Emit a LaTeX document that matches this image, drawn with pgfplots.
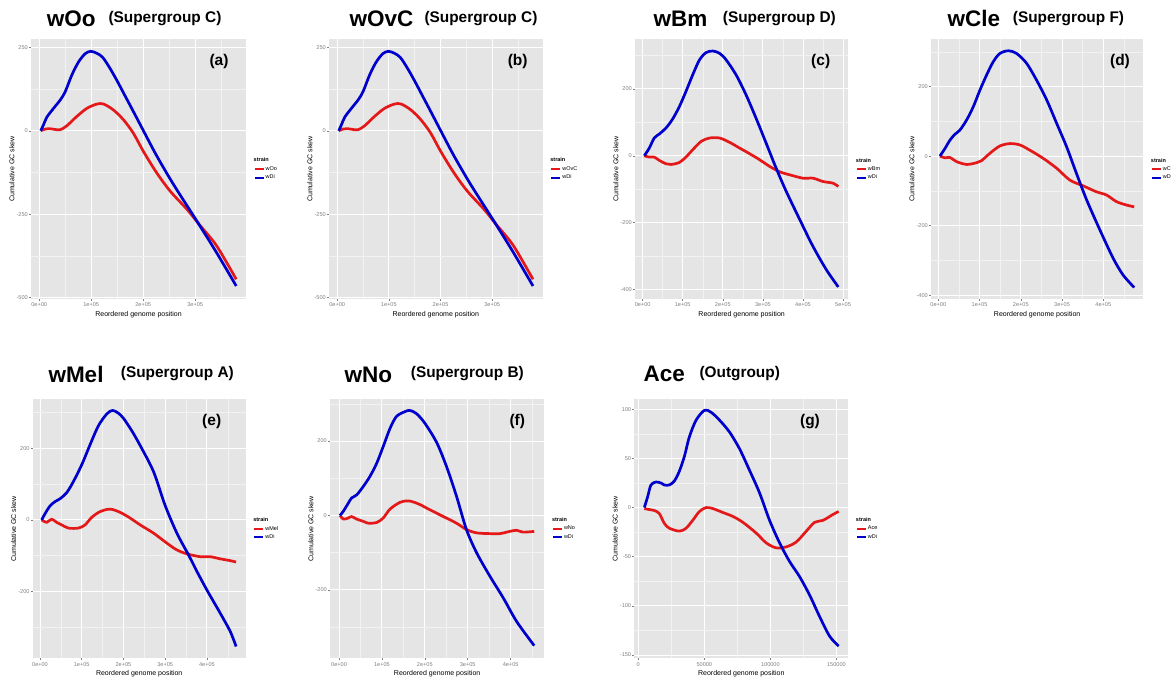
\documentclass[border=0pt]{standalone}
\usepackage{fontspec}
\setmainfont{Liberation Sans}
\usepackage{pgfplots}
\pgfplotsset{compat=1.18}

\definecolor{ggbg}{HTML}{E5E5E5}
\definecolor{ggminor}{HTML}{F2F2F2}
\definecolor{ggtick}{HTML}{808080}
\definecolor{skewred}{RGB}{228,24,24}
\definecolor{skewblue}{RGB}{0,0,205}

\pgfplotsset{
    ggpanel/.style={
        scale only axis, anchor=north west,
        axis background/.style={fill=ggbg},
        axis line style={draw=none},
        tick pos=left, tick align=outside,
        major tick length=2pt, minor tick length=0pt,
        tick style={ggtick, line width=0.5pt},
        grid=both,
        major grid style={white, line width=0.9pt},
        minor grid style={ggminor, line width=0.5pt},
        scaled ticks=false,
        tick label style={font=\fontsize{5.6}{6}\selectfont, text=ggtick},
        xticklabel style={inner sep=1.8pt},
        yticklabel style={inner sep=1pt},
        xlabel={Reordered genome position},
        ylabel={Cumulative GC skew},
        label style={font=\fontsize{7}{8}\selectfont},
        xlabel style={inner sep=1pt, yshift=-1.5pt},
        ylabel style={inner sep=1pt},
        legend cell align=left,
        legend style={at={(1.035,0.5)}, anchor=west, draw=none, fill=none,
            font=\fontsize{5.5}{6}\selectfont, inner sep=0pt, row sep=1pt,
            nodes={inner sep=1pt}},
        legend image code/.code={\draw[#1, line width=2pt] (0pt,0pt) -- (9pt,0pt);},
        every axis plot/.append style={line width=2.7pt, smooth, line join=round},
    },
    gencoord/.style={
        xtick={0,100000,200000,300000,400000,500000},
        xticklabels={0e+00,1e+05,2e+05,3e+05,4e+05,5e+05},
        minor xtick={50000,150000,250000,350000,450000},
    },
}

\begin{document}
\begin{tikzpicture}

% (a) wOo
\begin{axis}[ggpanel, gencoord, at={(31pt,642.7pt)}, width=215pt, height=259.7pt,
    xmin=-15800, xmax=397800, ymin=-504, ymax=274,
    ytick={-500,-250,0,250}, yticklabels={-500,-250,0,250},
    minor ytick={-375,-125,125}]
\addlegendimage{empty legend}\addlegendentry{\hspace{-12pt}\textbf{strain}}
\addplot[skewred] coordinates {(3000,0) (11500,5) (21000,6) (30000,4) (40400,3) (53200,15) (72400,43) (91600,67) (111000,80) (124000,80) (143000,62) (162000,33) (181000,-7) (200500,-62) (226000,-126) (252000,-181) (284000,-235) (309000,-283) (341000,-344) (379000,-445)};
\addlegendentry{wOo}
\addplot[skewblue] coordinates {(3000,0) (8300,18) (14800,41) (27500,67) (40400,92) (50000,117) (62800,167) (75600,206) (88500,231) (99300,238) (111000,232) (122000,220) (135000,190) (149000,152) (165000,105) (181000,58) (200500,0) (226000,-75) (258000,-160) (301000,-265) (340000,-362) (379000,-465)};
\addlegendentry{wDi}
\end{axis}

% (b) wOvC
\begin{axis}[ggpanel, gencoord, at={(329pt,642.7pt)}, width=213.7pt, height=259.7pt,
    xmin=-15800, xmax=397800, ymin=-504, ymax=274,
    ytick={-500,-250,0,250}, yticklabels={-500,-250,0,250},
    minor ytick={-375,-125,125}]
\addlegendimage{empty legend}\addlegendentry{\hspace{-12pt}\textbf{strain}}
\addplot[skewred] coordinates {(3000,0) (11500,5) (21000,6) (30000,4) (40400,3) (53200,15) (72400,43) (91600,67) (111000,80) (124000,80) (143000,62) (162000,33) (181000,-7) (200500,-62) (226000,-126) (252000,-181) (284000,-235) (309000,-283) (341000,-344) (379000,-445)};
\addlegendentry{wOvC}
\addplot[skewblue] coordinates {(3000,0) (8300,18) (14800,41) (27500,67) (40400,92) (50000,117) (62800,167) (75600,206) (88500,231) (99300,238) (111000,232) (122000,220) (135000,190) (149000,152) (165000,105) (181000,58) (200500,0) (226000,-75) (258000,-160) (301000,-265) (340000,-362) (379000,-465)};
\addlegendentry{wDi}
\end{axis}

% (c) wBm
\begin{axis}[ggpanel, gencoord, at={(635pt,642.7pt)}, width=213.3pt, height=259.7pt,
    xmin=-19000, xmax=513000, ymin=-428, ymax=348,
    ytick={-400,-200,0,200}, yticklabels={-400,-200,0,200},
    minor ytick={-300,-100,100,300}]
\addlegendimage{empty legend}\addlegendentry{\hspace{-12pt}\textbf{strain}}
\addplot[skewred] coordinates {(4200,0) (16700,-4) (29000,-4) (41700,-14) (58300,-24) (71000,-26) (91700,-20) (108000,-4) (125000,18) (146000,43) (167000,53) (192000,53) (217000,40) (242000,23) (267000,6) (292000,-12) (317000,-32) (342000,-48) (367000,-57) (400000,-67) (425000,-67) (450000,-77) (475000,-82) (488000,-92)};
\addlegendentry{wBm}
\addplot[skewblue] coordinates {(4200,0) (16700,23) (29000,53) (41700,65) (58300,83) (75000,110) (91700,147) (108000,192) (125000,242) (142000,287) (158000,308) (175000,313) (192000,306) (208000,287) (233000,242) (258000,182) (283000,112) (308000,38) (333000,-37) (358000,-106) (392000,-191) (425000,-271) (458000,-340) (488000,-392)};
\addlegendentry{wDi}
\end{axis}

% (d) wCle
\begin{axis}[ggpanel, gencoord, at={(931pt,642.7pt)}, width=212.3pt, height=259.7pt,
    xmin=-17700, xmax=497000, ymin=-411, ymax=336,
    ytick={-400,-200,0,200}, yticklabels={-400,-200,0,200},
    minor ytick={-300,-100,100,300}]
\addlegendimage{empty legend}\addlegendentry{\hspace{-12pt}\textbf{strain}}
\addplot[skewred] coordinates {(4000,0) (16200,-5) (28300,-4) (44400,-16) (68700,-24) (92900,-19) (105000,-13) (125000,8) (149000,29) (174000,36) (198000,32) (222000,17) (255000,-7) (287000,-35) (319000,-69) (352000,-86) (384000,-103) (408000,-112) (432000,-131) (457000,-141) (475000,-146)};
\addlegendentry{wC}
\addplot[skewblue] coordinates {(4000,0) (16200,22) (28300,46) (40400,63) (52500,75) (68700,104) (84800,142) (101000,190) (117000,233) (133000,271) (149000,295) (170000,303) (190000,295) (214000,267) (238000,219) (263000,161) (287000,94) (311000,27) (335000,-50) (360000,-127) (392000,-213) (424000,-294) (448000,-342) (475000,-378)};
\addlegendentry{wD}
\end{axis}

% (e) wMel
\begin{axis}[ggpanel, gencoord, at={(32.7pt,282.7pt)}, width=213pt, height=259pt,
    xmin=-17500, xmax=493000, ymin=-387, ymax=337,
    ytick={-200,0,200}, yticklabels={-200,0,200},
    minor ytick={-300,-100,100,300}]
\addlegendimage{empty legend}\addlegendentry{\hspace{-12pt}\textbf{strain}}
\addplot[skewred] coordinates {(4000,0) (16000,-7) (28000,2) (40000,-7) (52000,-14) (68000,-23) (92000,-23) (108000,-14) (124000,7) (144000,23) (168000,30) (192000,21) (216000,5) (240000,-14) (272000,-37) (304000,-65) (328000,-84) (352000,-95) (384000,-103) (408000,-103) (432000,-109) (456000,-114) (470000,-118)};
\addlegendentry{wMel}
\addplot[skewblue] coordinates {(4000,0) (12000,17) (24000,39) (36000,51) (48000,59) (64000,76) (80000,107) (100000,154) (120000,210) (140000,263) (160000,296) (174000,306) (188000,298) (200000,284) (220000,249) (240000,208) (272000,135) (300000,40) (328000,-37) (356000,-98) (376000,-144) (400000,-196) (432000,-261) (456000,-312) (470000,-354)};
\addlegendentry{wDi}
\end{axis}

% (f) wNo
\begin{axis}[ggpanel, gencoord, at={(330pt,282.7pt)}, width=214.3pt, height=259pt,
    xmin=-21000, xmax=478500, ymin=-384, ymax=312,
    ytick={-200,0,200}, yticklabels={-200,0,200},
    minor ytick={-300,-100,100,300}]
\addlegendimage{empty legend}\addlegendentry{\hspace{-12pt}\textbf{strain}}
\addplot[skewred] coordinates {(2300,0) (10000,-10) (21700,-7) (29500,-3) (41200,-10) (56700,-16) (68300,-21) (87800,-19) (103000,-7) (119000,17) (142000,35) (162000,39) (185000,31) (212000,15) (243000,-3) (274000,-21) (297000,-38) (321000,-47) (352000,-49) (375000,-49) (398000,-43) (414000,-40) (429000,-45) (455000,-43)};
\addlegendentry{wNo}
\addplot[skewblue] coordinates {(2300,0) (10000,11) (21700,33) (29500,47) (41200,55) (56700,78) (72200,105) (87800,140) (103000,185) (119000,234) (134000,266) (154000,279) (165000,282) (180000,274) (200000,248) (228000,195) (251000,130) (274000,51) (297000,-38) (321000,-101) (352000,-164) (383000,-222) (414000,-285) (455000,-350)};
\addlegendentry{wDi}
\end{axis}

% (g) Ace
\begin{axis}[ggpanel, at={(634.3pt,282.7pt)}, width=214pt, height=259pt,
    xmin=-3000, xmax=159000, ymin=-153.4, ymax=110.2,
    xtick={0,50000,100000,150000}, xticklabels={0,50000,100000,150000},
    minor xtick={25000,75000,125000},
    ytick={-150,-100,-50,0,50,100}, yticklabels={-150,-100,-50,0,50,100},
    minor ytick={-125,-75,-25,25,75}]
\addlegendimage{empty legend}\addlegendentry{\hspace{-12pt}\textbf{strain}}
\addplot[skewred] coordinates {(4600,-1) (8300,-2) (12100,-3) (15900,-6) (19700,-16) (23500,-21) (31100,-24) (36200,-21) (41200,-13) (46300,-4) (51300,0) (56400,-1) (64000,-5) (71600,-9) (79200,-15) (89300,-26) (96900,-36) (104400,-41) (112000,-40) (119600,-35) (127200,-24) (133500,-15) (139900,-13) (147400,-7) (151700,-4)};
\addlegendentry{Ace}
\addplot[skewblue] coordinates {(4600,0) (7100,11) (9600,23) (13400,26) (17200,25) (19700,23) (23500,23) (27300,27) (31100,37) (34900,52) (38700,72) (43800,89) (50100,99) (55100,97) (61500,89) (69000,77) (76600,60) (84200,38) (91800,15) (99400,-13) (107000,-36) (114600,-55) (122000,-70) (129700,-89) (137300,-111) (144900,-131) (151700,-141)};
\addlegendentry{wDi}
\end{axis}

% titles
\begin{scope}[every node/.style={anchor=west, inner sep=0pt}]
\node[font=\fontsize{22.5}{24}\selectfont\bfseries] at (46.7pt,663.7pt) {wOo};
\node[font=\fontsize{15.4}{17}\selectfont\bfseries] at (108.3pt,663.7pt) {(Supergroup C)};
\node[font=\fontsize{22.5}{24}\selectfont\bfseries] at (349.3pt,663.7pt) {wOvC};
\node[font=\fontsize{15.4}{17}\selectfont\bfseries] at (424.3pt,663.7pt) {(Supergroup C)};
\node[font=\fontsize{22.5}{24}\selectfont\bfseries] at (653.3pt,663.7pt) {wBm};
\node[font=\fontsize{15.4}{17}\selectfont\bfseries] at (722.7pt,663.7pt) {(Supergroup D)};
\node[font=\fontsize{22.5}{24}\selectfont\bfseries] at (947.3pt,663.7pt) {wCle};
\node[font=\fontsize{15.4}{17}\selectfont\bfseries] at (1012.7pt,663.7pt) {(Supergroup F)};
\node[font=\fontsize{22.5}{24}\selectfont\bfseries] at (48.3pt,308pt) {wMel};
\node[font=\fontsize{15.4}{17}\selectfont\bfseries] at (120.7pt,308.7pt) {(Supergroup A)};
\node[font=\fontsize{22.5}{24}\selectfont\bfseries] at (344.3pt,307pt) {wNo};
\node[font=\fontsize{15.4}{17}\selectfont\bfseries] at (410.7pt,308.7pt) {(Supergroup B)};
\node[font=\fontsize{22.5}{24}\selectfont\bfseries] at (643.3pt,308pt) {Ace};
\node[font=\fontsize{15.4}{17}\selectfont\bfseries] at (699.3pt,308.7pt) {(Outgroup)};
\end{scope}

% panel letters
\begin{scope}[every node/.style={font=\fontsize{15.5}{17}\selectfont\bfseries, inner sep=0pt}]
\node at (219pt,620.3pt) {(a)};
\node at (517.7pt,620.3pt) {(b)};
\node at (820.7pt,620.3pt) {(c)};
\node at (1120pt,620.3pt) {(d)};
\node at (211.7pt,260.3pt) {(e)};
\node at (517.3pt,260.3pt) {(f)};
\node at (810pt,260.3pt) {(g)};
\end{scope}

\pgfresetboundingbox
\path[use as bounding box] (0pt,0pt) rectangle (1176pt,682pt);
\end{tikzpicture}
\end{document}
